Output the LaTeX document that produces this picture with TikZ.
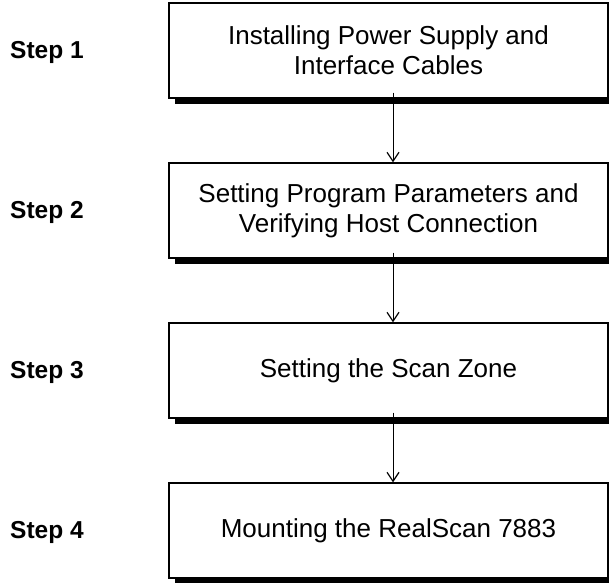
\documentclass[tikz,border=0pt]{standalone}
\usepackage{fontspec}
\setmainfont{Liberation Sans}
\usetikzlibrary{arrows.meta}
\begin{document}
\begin{tikzpicture}[x=1pt,y=-1pt,
  stepbox/.style={draw=black,line width=1.3pt,fill=white,minimum width=439pt,minimum height=95pt,
    align=center,font=\fontsize{26}{30}\selectfont,inner sep=0pt},
  steplabel/.style={anchor=base west,font=\fontsize{24.5}{28}\selectfont\bfseries,inner sep=0pt},
  shadowfill/.style={fill=black},
  flow/.style={-{Straight Barb[length=9pt,width=12pt,line width=1.2pt]},line width=1pt}]
\useasboundingbox (0,0) rectangle (609,582);
% shadows
\fill[shadowfill] (175,98) rectangle (612,104);
\fill[shadowfill] (175,258) rectangle (612,264);
\fill[shadowfill] (175,418) rectangle (612,424);
\fill[shadowfill] (175,578) rectangle (612,584);
% boxes
\node[stepbox] (b1) at (388.5,50.5) {Installing Power Supply and\\Interface Cables};
\node[stepbox] (b2) at (388.5,210.5) {Setting Program Parameters and\\Verifying Host Connection};
\node[stepbox] (b3) at (388.5,370.5) {Setting the Scan Zone};
\node[stepbox] (b4) at (388.5,530.5) {Mounting the RealScan 7883};
% labels
\node[steplabel] (s1) at (10,58) {Step 1};
\node[steplabel] (s2) at (10,218) {Step 2};
\node[steplabel] (s3) at (10,378) {Step 3};
\node[steplabel] (s4) at (10,538) {Step 4};
% arrows
\coordinate (a1) at ([yshift=6pt]b1.south);
\coordinate (a2) at ([yshift=6pt]b2.south);
\coordinate (a3) at ([yshift=6pt]b3.south);
\draw[flow] ([xshift=4.5pt]a1) -- ([xshift=4.5pt]b2.north);
\draw[flow] ([xshift=4.5pt]a2) -- ([xshift=4.5pt]b3.north);
\draw[flow] ([xshift=4.5pt]a3) -- ([xshift=4.5pt]b4.north);
\end{tikzpicture}
\end{document}
